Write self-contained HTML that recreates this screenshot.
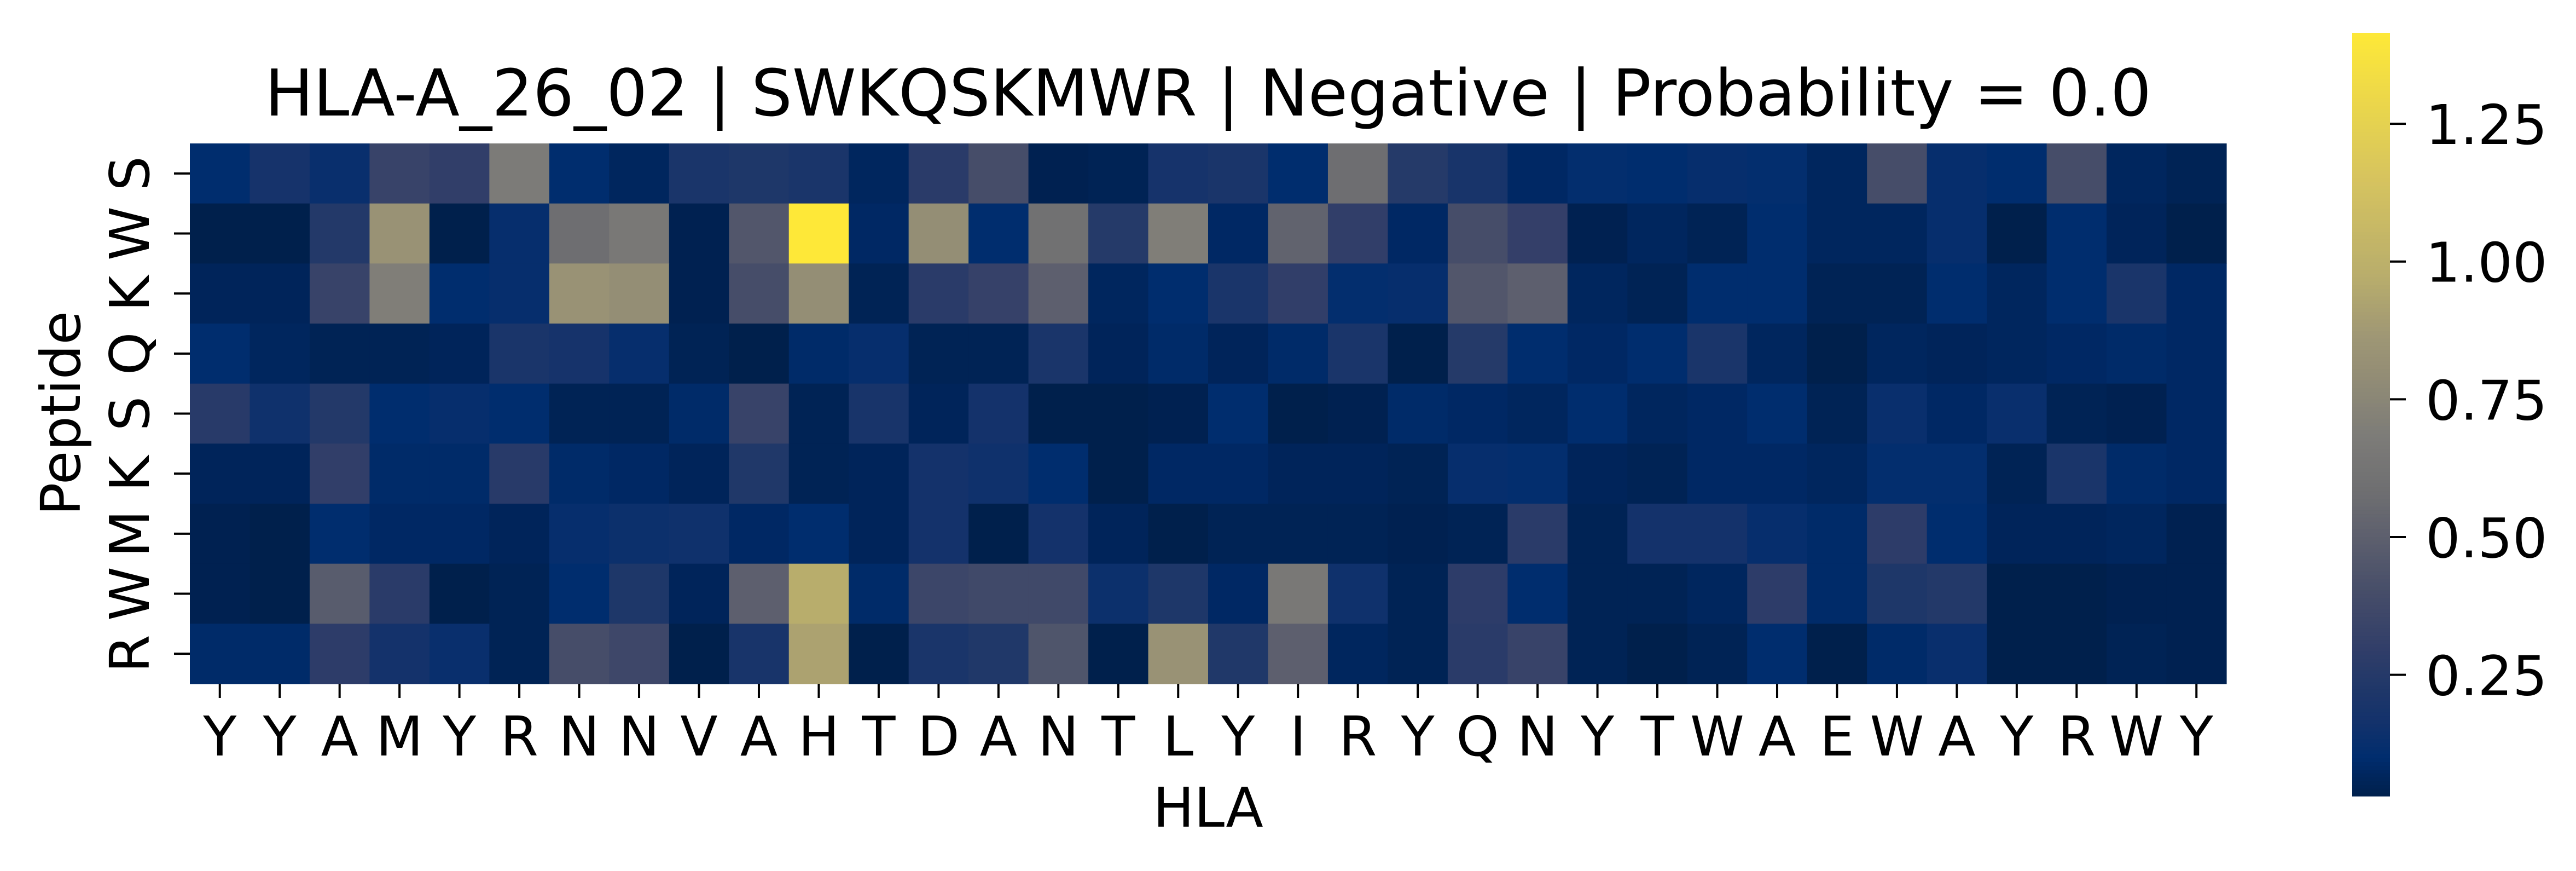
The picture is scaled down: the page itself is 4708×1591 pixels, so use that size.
<!DOCTYPE html>
<html><head><meta charset="utf-8">
<style>
html,body{margin:0;padding:0;background:#fff;}
svg{display:block;font-family:"DejaVu Sans","Liberation Sans",sans-serif;}
</style></head>
<body>
<svg id="chart" width="4708" height="1591" viewBox="0 0 4708 1591" xmlns="http://www.w3.org/2000/svg">
<rect width="4708" height="1591" fill="#fff"/>
<text x="2208" y="211" font-size="118" text-anchor="middle" fill="#000">HLA-A_26_02 | SWKQSKMWR | Negative | Probability = 0.0</text>
<text x="2208" y="1510" font-size="100" text-anchor="middle" fill="#000">HLA</text>
<text transform="translate(146,755) rotate(-90)" font-size="100" text-anchor="middle" fill="#000">Peptide</text>
<g id="cells"></g>
<g id="xticks"></g>
<g id="yticks"></g>
<g id="cbar"></g>
</svg>
<script>
const hlaLabels = ["Y","Y","A","M","Y","R","N","N","V","A","H","T","D","A","N","T","L","Y","I","R","Y","Q","N","Y","T","W","A","E","W","A","Y","R","W","Y"];
const peptideLabels = ["S","W","K","Q","S","K","M","W","R"];
const rowS1 = [0.1,0.18,0.13,0.33,0.3,0.68,0.1,0.07,0.2,0.22,0.2,0.07,0.27,0.4,0.04,0.05,0.18,0.2,0.1,0.58,0.25,0.19,0.08,0.11,0.1,0.12,0.11,0.07,0.4,0.12,0.1,0.4,0.07,0.05];
const rowW2 = [0.03,0.03,0.24,0.83,0.03,0.12,0.58,0.66,0.04,0.45,1.415,0.08,0.8,0.1,0.6,0.25,0.7,0.08,0.52,0.3,0.08,0.4,0.31,0.04,0.07,0.05,0.1,0.07,0.07,0.12,0.03,0.1,0.06,0.03];
const rowK3 = [0.06,0.06,0.33,0.7,0.1,0.12,0.83,0.8,0.04,0.4,0.8,0.05,0.27,0.32,0.5,0.07,0.1,0.2,0.3,0.11,0.12,0.45,0.5,0.07,0.05,0.1,0.1,0.05,0.05,0.1,0.07,0.1,0.2,0.08];
const rowQ4 = [0.1,0.07,0.05,0.05,0.06,0.2,0.18,0.12,0.05,0.03,0.09,0.12,0.05,0.05,0.2,0.06,0.09,0.06,0.09,0.2,0.03,0.25,0.1,0.08,0.1,0.2,0.07,0.03,0.07,0.06,0.07,0.08,0.09,0.08];
const rowS5 = [0.26,0.15,0.24,0.1,0.12,0.1,0.05,0.05,0.09,0.33,0.05,0.19,0.06,0.17,0.03,0.03,0.04,0.1,0.02,0.04,0.09,0.08,0.07,0.1,0.07,0.08,0.1,0.05,0.13,0.08,0.13,0.05,0.04,0.08];
const rowK6 = [0.06,0.06,0.3,0.09,0.09,0.26,0.09,0.08,0.06,0.23,0.05,0.06,0.17,0.15,0.1,0.03,0.08,0.08,0.06,0.06,0.05,0.12,0.11,0.06,0.05,0.08,0.08,0.07,0.11,0.11,0.05,0.2,0.09,0.08];
const rowM7 = [0.04,0.03,0.1,0.08,0.08,0.06,0.12,0.14,0.15,0.08,0.1,0.06,0.17,0.03,0.17,0.06,0.03,0.05,0.05,0.05,0.04,0.05,0.27,0.05,0.17,0.17,0.12,0.09,0.28,0.1,0.06,0.06,0.07,0.04];
const rowW8 = [0.04,0.03,0.48,0.27,0.03,0.05,0.1,0.22,0.06,0.5,0.97,0.09,0.35,0.37,0.37,0.14,0.22,0.08,0.66,0.15,0.05,0.28,0.1,0.05,0.05,0.07,0.28,0.09,0.22,0.24,0.03,0.03,0.04,0.04];
const rowR9 = [0.09,0.09,0.28,0.17,0.13,0.05,0.4,0.36,0.03,0.19,0.92,0.03,0.2,0.23,0.44,0.02,0.83,0.23,0.5,0.07,0.05,0.27,0.33,0.05,0.03,0.05,0.1,0.03,0.09,0.13,0.03,0.03,0.05,0.04];
const cbarTicks = [0.25,0.5,0.75,1.0,1.25];
const cbarTickLabels = ["0.25","0.50","0.75","1.00","1.25"];
const vmin = 0.03, vmax = 1.415;

const matrix = [rowS1,rowW2,rowK3,rowQ4,rowS5,rowK6,rowM7,rowW8,rowR9];
const NS = "http://www.w3.org/2000/svg";
const X0 = 347, X1 = 4069, Y0 = 262, Y1 = 1249;
const cw = (X1 - X0) / hlaLabels.length, ch = (Y1 - Y0) / peptideLabels.length;
function xPos(i){ return X0 + i * cw; }
function yPos(j){ return Y0 + j * ch; }
const stops = [[0,[0,32,76]],[0.03,[0,38,95]],[0.05,[0,45,110]],[0.1,[20,50,107]],[0.14,[31,55,105]],[0.2,[51,63,105]],[0.27,[71,78,105]],[0.33,[90,93,109]],[0.4,[111,111,113]],[0.47,[124,123,120]],[0.56,[149,143,117]],[0.6,[158,150,117]],[0.68,[184,173,108]],[0.8,[212,194,96]],[1,[254,232,56]]];
function cmap(v){
  let t = Math.max(0, Math.min(1, (v - vmin) / (vmax - vmin)));
  for (let k = 1; k < stops.length; k++){
    if (t <= stops[k][0]){
      const a = stops[k-1], b = stops[k], f = (t - a[0]) / (b[0] - a[0]);
      const c = a[1].map((x, i) => Math.round(x + (b[1][i] - x) * f));
      return "rgb(" + c.join(",") + ")";
    }
  }
  return "rgb(254,232,56)";
}
const cells = document.getElementById("cells");
matrix.forEach((row, j) => row.forEach((v, i) => {
  const r = document.createElementNS(NS, "rect");
  r.setAttribute("x", xPos(i)); r.setAttribute("y", yPos(j));
  r.setAttribute("width", cw + 0.6); r.setAttribute("height", ch + 0.6);
  r.setAttribute("fill", cmap(v));
  
  
  cells.appendChild(r);
}));
const xt = document.getElementById("xticks");
hlaLabels.forEach((lab, i) => {
  const cx = xPos(i) + cw / 2;
  const l = document.createElementNS(NS, "line");
  l.setAttribute("x1", cx); l.setAttribute("x2", cx); l.setAttribute("y1", Y1); l.setAttribute("y2", Y1 + 26);
  l.setAttribute("stroke", "#000"); l.setAttribute("stroke-width", "4");
  
  
  xt.appendChild(l);
  const t = document.createElementNS(NS, "text");
  t.setAttribute("x", cx); t.setAttribute("y", 1380); t.setAttribute("font-size", "100"); t.setAttribute("text-anchor", "middle");
  t.textContent = lab;
  
  
  xt.appendChild(t);
});
const yt = document.getElementById("yticks");
peptideLabels.forEach((lab, j) => {
  const cy = yPos(j) + ch / 2;
  const l = document.createElementNS(NS, "line");
  l.setAttribute("x1", X0 - 29); l.setAttribute("x2", X0); l.setAttribute("y1", cy); l.setAttribute("y2", cy);
  l.setAttribute("stroke", "#000"); l.setAttribute("stroke-width", "4");
  
  
  yt.appendChild(l);
  const t = document.createElementNS(NS, "text");
  t.setAttribute("transform", "translate(272," + cy + ") rotate(-90)");
  t.setAttribute("font-size", "100"); t.setAttribute("text-anchor", "middle");
  t.textContent = lab;
  
  
  yt.appendChild(t);
});
const cb = document.getElementById("cbar");
const CX0 = 4299, CX1 = 4368, CY0 = 60, CY1 = 1454;
function cbY(v){ return CY1 - (v - vmin) / (vmax - vmin) * (CY1 - CY0); }
const N = 200;
for (let k = 0; k < N; k++){
  const v = vmin + (vmax - vmin) * k / N;
  const r = document.createElementNS(NS, "rect");
  const yTop = cbY(vmin + (vmax - vmin) * (k + 1) / N);
  r.setAttribute("x", CX0); r.setAttribute("y", yTop); r.setAttribute("width", CX1 - CX0); r.setAttribute("height", (CY1 - CY0) / N + 0.8);
  r.setAttribute("fill", cmap(v + (vmax - vmin) / (2 * N)));
  
  
  cb.appendChild(r);
}
cbarTicks.forEach((v, k) => {
  const y = cbY(v);
  const l = document.createElementNS(NS, "line");
  l.setAttribute("x1", CX1); l.setAttribute("x2", CX1 + 29); l.setAttribute("y1", y); l.setAttribute("y2", y);
  l.setAttribute("stroke", "#000"); l.setAttribute("stroke-width", "4");
  
  
  cb.appendChild(l);
  const t = document.createElementNS(NS, "text");
  t.setAttribute("x", 4433); t.setAttribute("y", y + 37); t.setAttribute("font-size", "100");
  t.textContent = cbarTickLabels[k];
  
  
  cb.appendChild(t);
});
</script>
</body></html>
